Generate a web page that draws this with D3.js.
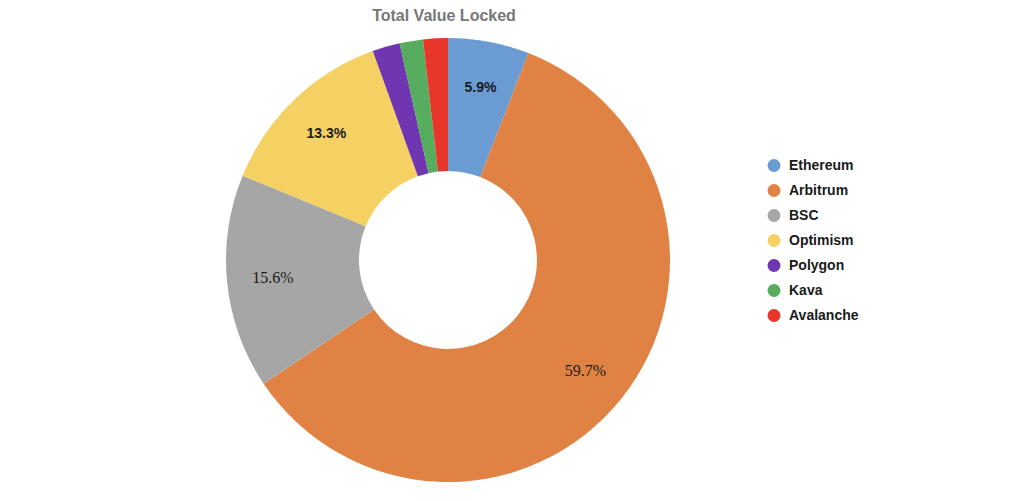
<!DOCTYPE html>
<html>
<head>
<meta charset="utf-8">
<script src="https://cdn.jsdelivr.net/npm/d3@7/dist/d3.min.js"></script>
<style>
  html, body { margin: 0; padding: 0; background: #fff; }
  svg { display: block; }
</style>
</head>
<body>
<svg id="chart" width="1024" height="501"></svg>
<script>
const categories = ["Ethereum", "Arbitrum", "BSC", "Optimism", "Polygon", "Kava", "Avalanche"];
const values = [5.9, 59.7, 15.6, 13.3, 2.0, 1.7, 1.8];
const colors = ["#6a9bd2", "#df8243", "#a6a6a6", "#f5d062", "#7035b0", "#55ad5d", "#e8362b"];
const labelText = ["5.9%", "59.7%", "15.6%", "13.3%", "", "", ""];
const labelStyle = ["sans", "serif", "serif", "sans", "", "", ""];
const title = "Total Value Locked";

const svg = d3.select("#chart");
const cx = 448, cy = 260, outerR = 222, innerR = 89, labelR = 176;

svg.append("text")
  .attr("x", 444).attr("y", 21)
  .attr("text-anchor", "middle")
  .attr("font-family", "Liberation Sans, Arial, sans-serif")
  .attr("font-weight", "bold")
  .attr("font-size", 16)
  .attr("fill", "#777")
  .text(title);

const data = categories.map((c, i) => ({ name: c, value: values[i], color: colors[i], label: labelText[i], style: labelStyle[i] }));
const pie = d3.pie().value(d => d.value).sort(null);
const arcs = pie(data);
const arc = d3.arc().innerRadius(innerR).outerRadius(outerR);
const labelArc = d3.arc().innerRadius(labelR).outerRadius(labelR);

const g = svg.append("g").attr("transform", `translate(${cx},${cy})`);
g.selectAll("path").data(arcs).enter().append("path")
  .attr("d", arc)
  .attr("fill", d => d.data.color);

g.selectAll("text.lbl").data(arcs.filter(d => d.data.label)).enter().append("text")
  .attr("class", "lbl")
  .attr("transform", d => `translate(${labelArc.centroid(d)})`)
  .attr("text-anchor", "middle")
  .attr("dy", "0.35em")
  .attr("font-family", d => d.data.style === "serif" ? "Liberation Serif, Times New Roman, serif" : "Liberation Sans, Arial, sans-serif")
  .attr("font-weight", d => d.data.style === "serif" ? "normal" : "bold")
  .attr("font-size", d => d.data.style === "serif" ? 16 : 14)
  .attr("fill", "#1a1a1a")
  .text(d => d.data.label);

const legendY = d3.scaleBand().domain(categories).range([153, 328]);
const legend = svg.append("g");
const items = legend.selectAll("g").data(data).enter().append("g")
  .attr("transform", d => `translate(774,${legendY(d.name) + legendY.bandwidth() / 2})`);
items.append("circle").attr("r", 6.5).attr("fill", d => d.color);
items.append("text")
  .attr("x", 15).attr("dy", "0.35em")
  .attr("font-family", "Liberation Sans, Arial, sans-serif")
  .attr("font-weight", "bold")
  .attr("font-size", 14)
  .attr("fill", "#1a1a1a")
  .text(d => d.name);
</script>
</body>
</html>
